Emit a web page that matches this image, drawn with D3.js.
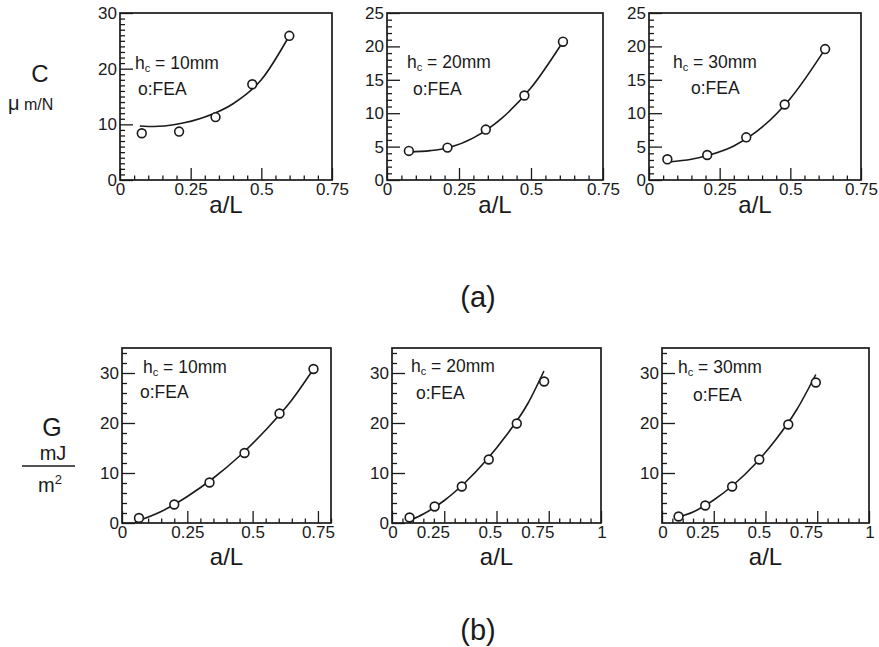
<!DOCTYPE html>
<html><head><meta charset="utf-8">
<script src="https://cdn.jsdelivr.net/npm/d3@7"></script>
<style>body{margin:0;background:#fff}svg{display:block;font-family:"Liberation Sans",Arial,sans-serif}</style>
</head><body><svg id="chart" width="879" height="647"></svg>
<script>
// compliance C (um/N) vs a/L, FEA points + fitted curve
const cFeaX10=[0.077,0.209,0.338,0.468,0.599],cFeaY10=[8.4,8.7,11.3,17.2,25.9];
const cFitX10=[0.07,0.12,0.2,0.3,0.4,0.5,0.6],cFitY10=[9.7,9.6,10.0,11.3,13.7,18.0,26.0];
const cFeaX20=[0.076,0.21,0.343,0.477,0.611],cFeaY20=[4.35,4.85,7.55,12.65,20.7];
const cFitX20=[0.075,0.15,0.21,0.3,0.4,0.5,0.611],cFitY20=[4.2,4.4,4.8,6.3,9.3,13.8,20.7];
const cFeaX30=[0.065,0.206,0.344,0.48,0.623],cFeaY30=[3.1,3.74,6.39,11.3,19.6];
const cFitX30=[0.07,0.15,0.21,0.3,0.4,0.5,0.62],cFitY30=[2.7,3.1,3.7,5.1,7.9,12.2,19.4];
// energy release rate G (mJ/m2) vs a/L
const gFeaX10=[0.065,0.2,0.335,0.469,0.603,0.733],gFeaY10=[1.0,3.7,8.1,14.0,21.9,30.8];
const gFitX10=[0.06,0.15,0.25,0.35,0.45,0.55,0.65,0.733],gFitY10=[0.4,2.3,5.3,9.0,13.4,18.6,24.6,30.8];
const gFeaX20=[0.084,0.204,0.334,0.463,0.597,0.728],gFeaY20=[1.1,3.3,7.3,12.7,19.9,28.3];
const gFitX20=[0.095,0.15,0.25,0.35,0.45,0.55,0.65,0.727],gFitY20=[0.7,1.8,4.5,8.1,12.5,17.7,23.9,30.4];
const gFeaX30=[0.08,0.209,0.339,0.47,0.61,0.743],gFeaY30=[1.3,3.5,7.3,12.7,19.7,28.1];
const gFitX30=[0.065,0.15,0.25,0.35,0.45,0.55,0.65,0.743],gFitY30=[1.0,2.2,4.6,7.8,11.8,16.7,22.6,29.7];
// tick labels
const xTicksA=[0,0.25,0.5,0.75],xTicksB1=[0,0.25,0.5,0.75],xTicksB=[0,0.25,0.5,0.75,1];
const yTicksC10=[0,10,20,30],yTicksC=[0,5,10,15,20,25],yTicksG=[0,10,20,30],yTicksG30=[10,20,30];
const hcLabels=['10','20','30'];

const svg=d3.select('#chart');
const ink='#1a1a1a';
const panels=[
 {l:120,r:332,t:13,b:180,xd:[0,0.75],yd:[0,30],xt:xTicksA,yt:yTicksC10,ym:1,fx:cFeaX10,fy:cFeaY10,cx:cFitX10,cy:cFitY10,hc:hcLabels[0],hp:[135,69],fp:[138,95]},
 {l:387,r:603,t:13,b:180,xd:[0,0.75],yd:[0,25],xt:xTicksA,yt:yTicksC,ym:1,fx:cFeaX20,fy:cFeaY20,cx:cFitX20,cy:cFitY20,hc:hcLabels[1],hp:[407,68],fp:[413,95]},
 {l:649,r:861,t:13,b:180,xd:[0,0.75],yd:[0,25],xt:xTicksA,yt:yTicksC,ym:1,fx:cFeaX30,fy:cFeaY30,cx:cFitX30,cy:cFitY30,hc:hcLabels[2],hp:[673,68],fp:[691,94]},
 {l:122,r:331,t:348,b:523,xd:[0,0.8],yd:[0,35],xt:xTicksB1,yt:yTicksG,ym:2,fx:gFeaX10,fy:gFeaY10,cx:gFitX10,cy:gFitY10,hc:hcLabels[0],hp:[143,373],fp:[140,398]},
 {l:392,r:601,t:348,b:523,xd:[0,1],yd:[0,35],xt:xTicksB,yt:yTicksG,ym:2,fx:gFeaX20,fy:gFeaY20,cx:gFitX20,cy:gFitY20,hc:hcLabels[1],hp:[411,372],fp:[416,399],shiftX:true},
 {l:662,r:869,t:348,b:523,xd:[0,1],yd:[0,35],xt:xTicksB,yt:yTicksG30,ym:2,fx:gFeaX30,fy:gFeaY30,cx:gFitX30,cy:gFitY30,hc:hcLabels[2],hp:[678,373],fp:[693,401],shiftX:true}
];

panels.forEach(p=>{
  const x=d3.scaleLinear().domain(p.xd).range([p.l,p.r]);
  const y=d3.scaleLinear().domain(p.yd).range([p.b,p.t]);
  const g=svg.append('g');
  // minor ticks
  const xMinor=d3.range(p.xd[0],p.xd[1]+1e-9,0.05).filter(v=>!p.xt.some(t=>Math.abs(t-v)<1e-6));
  const yMinor=d3.range(p.yd[0],p.yd[1]+1e-9,p.ym).filter(v=>v%(p.yd[1]===25?5:10)!==0);
  g.append('g').attr('transform',`translate(0,${p.b})`).call(d3.axisBottom(x).tickValues(xMinor).tickSize(-4.5).tickFormat(''));
  g.append('g').attr('transform',`translate(${p.l},0)`).call(d3.axisLeft(y).tickValues(yMinor).tickSize(-5).tickFormat(''));
  // major ticks + labels
  const xa=g.append('g').attr('transform',`translate(0,${p.b})`).call(d3.axisBottom(x).tickValues(p.xt).tickSize(-12).tickPadding(3).tickFormat(d=>String(d)));
  const ya=g.append('g').attr('transform',`translate(${p.l},0)`).call(d3.axisLeft(y).tickValues(p.yt).tickSize(-13).tickPadding(4).tickFormat(d=>String(d)));
  [xa,ya].forEach(a=>{a.selectAll('text').attr('font-size','17px').attr('fill',ink).attr('font-family','"Liberation Sans",Arial,sans-serif')});
  if(p.shiftX)xa.selectAll('text').attr('text-anchor','end').attr('dx','0.3em');
  ya.selectAll('text').attr('x',-3);
  g.selectAll('.domain').remove();
  g.selectAll('.tick line').attr('stroke',ink).attr('stroke-width',1.3);
  g.append('rect').attr('x',p.l).attr('y',p.t).attr('width',p.r-p.l).attr('height',p.b-p.t)
    .attr('fill','none').attr('stroke',ink).attr('stroke-width',1.7);
  // fitted curve
  const line=d3.line().x(d=>x(d[0])).y(d=>y(d[1])).curve(d3.curveMonotoneX);
  g.append('path').datum(p.cx.map((v,i)=>[v,p.cy[i]])).attr('d',line).attr('fill','none').attr('stroke',ink).attr('stroke-width',1.6);
  // FEA points
  g.selectAll('circle').data(p.fx.map((v,i)=>[v,p.fy[i]])).join('circle')
    .attr('cx',d=>x(d[0])).attr('cy',d=>y(d[1])).attr('r',4.4).attr('fill','#fff').attr('stroke',ink).attr('stroke-width',1.6);
  // annotations
  const h=g.append('text').attr('x',p.hp[0]).attr('y',p.hp[1]).attr('font-size','17.5px').attr('fill',ink);
  h.append('tspan').text('h');
  h.append('tspan').attr('font-size','11px').attr('dy',3).text('c');
  h.append('tspan').attr('dy',-3).text(' = '+p.hc+'mm');
  g.append('text').attr('x',p.fp[0]).attr('y',p.fp[1]).attr('font-size','17.5px').attr('fill',ink).text('o:FEA');
  g.append('text').attr('x',(p.l+p.r)/2).attr('y',p.b+(p.t<100?33:42)).attr('text-anchor','middle').attr('font-size','24px').attr('fill',ink).text('a/L');
});

// y titles
svg.append('text').attr('x',40).attr('y',82).attr('text-anchor','middle').attr('font-size','24px').attr('fill',ink).text('C');
const um=svg.append('text').attr('x',8).attr('y',110).attr('font-size','20px').attr('fill',ink);
um.append('tspan').text('\u03bc');um.append('tspan').attr('font-size','16px').text(' m/N');
svg.append('text').attr('x',52).attr('y',436).attr('text-anchor','middle').attr('font-size','25px').attr('fill',ink).text('G');
svg.append('text').attr('x',53).attr('y',460).attr('text-anchor','middle').attr('font-size','20px').attr('fill',ink).text('mJ');
svg.append('line').attr('x1',22).attr('x2',75).attr('y1',466).attr('y2',466).attr('stroke',ink).attr('stroke-width',1.4);
const m2=svg.append('text').attr('x',38).attr('y',492).attr('font-size','20px').attr('fill',ink);
m2.append('tspan').text('m');m2.append('tspan').attr('font-size','13px').attr('dy',-8).text('2');
// panel captions
svg.append('text').attr('x',478).attr('y',307).attr('text-anchor','middle').attr('font-size','29px').attr('fill',ink).text('(a)');
svg.append('text').attr('x',478).attr('y',640).attr('text-anchor','middle').attr('font-size','29px').attr('fill',ink).text('(b)');
</script></body></html>
